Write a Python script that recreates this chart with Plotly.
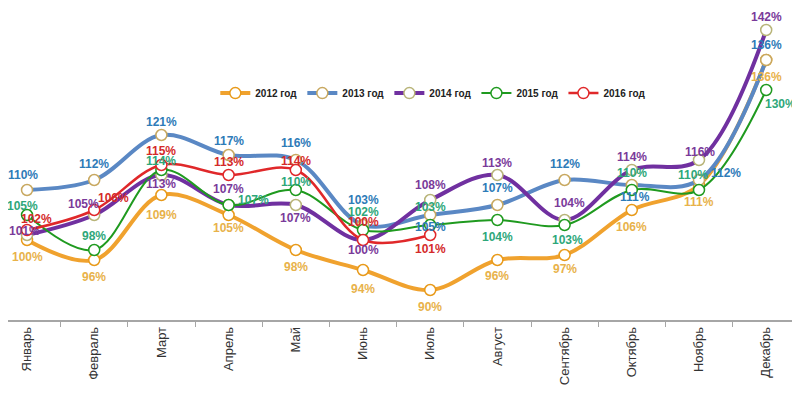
import plotly.graph_objects as go

months = ["Январь", "Февраль", "Март", "Апрель", "Май", "Июнь", "Июль",
          "Август", "Сентябрь", "Октябрь", "Ноябрь", "Декабрь"]

y2012 = [100, 96, 109, 105, 98, 94, 90, 96, 97, 106, 111, 136]
y2013 = [110, 112, 121, 117, 116, 103, 105, 107, 112, 111, 112, 136]
y2014 = [101, 105, 113, 107, 107, 100, 108, 113, 104, 114, 116, 142]
y2015 = [105, 98, 114, 107, 110, 102, 103, 104, 103, 110, 110, 130]
y2016 = [102, 106, 115, 113, 114, 100, 101]

names = ["2012 год", "2013 год", "2014 год", "2015 год", "2016 год"]

# label offsets (dx, dy) in pixels; dy positive = downward
off2012 = [(0, 17), (0, 17), (0, 20), (0, 13), (0, 17), (0, 19), (0, 17),
           (0, 16), (0, 14), (0, 17), (0, 17), (0, 17)]
off2013 = [(-4, -15), (0, -16), (0, -13), (0, -14), (0, -17), (0, -25), (0, 12),
           (0, -17), (0, -16), (3, 12), (27, -7), (0, -15)]
off2014 = [(-3, -4), (-11, -11), (0, 9), (0, -16), (0, 13), (0, 10), (0, -15),
           (0, -12), (5, -17), (0, -13), (1, -8), (0, -13)]
off2015 = [(-5, -9), (0, -14), (0, -9), (25, -5), (0, -8), (0, -18), (0, -18),
           (0, 17), (3, 15), (0, -17), (-6, -15), (14, 14)]
off2016 = [(9, -11), (19, -12), (0, -14), (0, -13), (0, -9), (0, -18), (0, 14)]

series = [
    dict(y=y2012, name=names[0], line="#F0A22E", width=4, mk="#E89A1A", lab="#E8B24A", off=off2012),
    dict(y=y2013, name=names[1], line="#5A88C4", width=4, mk="#C8A860", lab="#2E7BB8", off=off2013),
    dict(y=y2014, name=names[2], line="#7030A0", width=4, mk="#B8B478", lab="#7A3A9A", off=off2014),
    dict(y=y2015, name=names[3], line="#1F9A1F", width=2, mk="#1F9A1F", lab="#2EA77A", off=off2015),
    dict(y=y2016, name=names[4], line="#E0282A", width=2.5, mk="#E0282A", lab="#D42A2A", off=off2016),
]

fig = go.Figure()
annotations = []
for s in series:
    xs = months[:len(s["y"])]
    fig.add_trace(go.Scatter(
        x=xs, y=s["y"], name=s["name"], mode="lines+markers",
        line=dict(color=s["line"], width=s["width"], shape="spline", smoothing=1.0),
        marker=dict(size=11, color="white", line=dict(color=s["mk"], width=1.5)),
    ))
for s in reversed(series):
    for i, v in enumerate(s["y"]):
        dx, dy = s["off"][i]
        annotations.append(dict(
            x=months[i], y=v, xref="x", yref="y", text=f"{v}%", showarrow=False,
            xshift=dx, yshift=-dy,
            font=dict(family="Liberation Sans, Arial, sans-serif", size=12,
                      color=s["lab"], weight="bold"),
        ))

fig.update_layout(
    width=792, height=385,
    margin=dict(l=0, r=0, t=2, b=73),
    paper_bgcolor="white", plot_bgcolor="white",
    annotations=annotations,
    showlegend=True,
    legend=dict(orientation="h", x=0.537, xanchor="center", y=0.732, yanchor="middle",
                font=dict(family="Liberation Sans, Arial, sans-serif", size=10,
                          color="#222", weight="bold"),
                bgcolor="rgba(0,0,0,0)", itemwidth=30, tracegroupgap=0),
    xaxis=dict(
        type="category", categoryorder="array", categoryarray=months,
        range=[-0.283, 11.503], showgrid=False, zeroline=False,
        showline=True, linecolor="#A6A6A6", linewidth=1.5,
        ticks="outside", tickson="boundaries", ticklen=5, tickcolor="#A6A6A6",
        tickangle=-90,
        tickfont=dict(family="Liberation Sans, Arial, sans-serif", size=13, color="#333"),
    ),
    yaxis=dict(range=[84, 146], visible=False, showgrid=False, zeroline=False),
)

fig.write_html("out.html")
